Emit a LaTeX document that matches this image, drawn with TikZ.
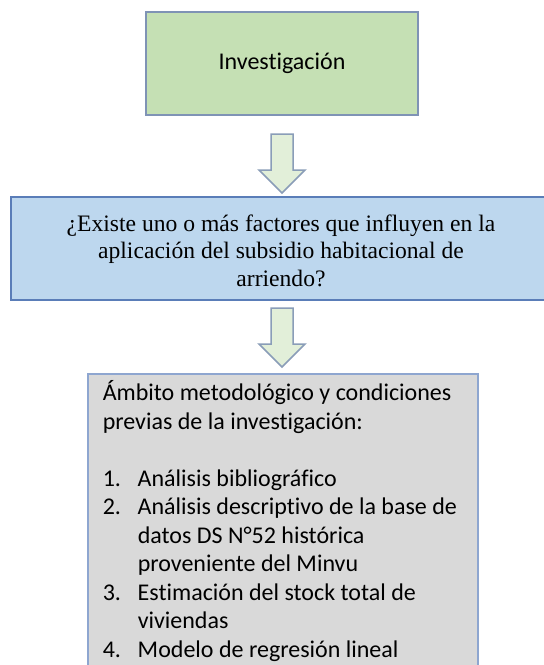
\documentclass[tikz,border=0pt]{standalone}
\usepackage{fontspec}
\setmainfont{Carlito}[Ligatures=NoCommon]
\newfontfamily\timesfont{Liberation Serif}
\usetikzlibrary{calc}

\definecolor{invfill}{HTML}{C5E0B4}
\definecolor{invline}{HTML}{7F93B5}
\definecolor{qfill}{HTML}{BDD7EE}
\definecolor{qline}{HTML}{5A7DB8}
\definecolor{ambfill}{HTML}{D9D9D9}
\definecolor{ambline}{HTML}{8EA6D0}
\definecolor{arrowfill}{HTML}{E2EFD9}
\definecolor{arrowline}{HTML}{8A9DB8}

% numbered line of the list
\newcommand{\numline}[1]{\makebox[17.5pt][l]{#1}}
\newcommand{\contline}{\hspace*{17.5pt}}

\begin{document}
\begin{tikzpicture}[x=0.5pt, y=-0.5pt, line width=0.75pt,
  flow box/.style={draw, inner sep=0pt},
  down arrow/.style={draw=arrowline, fill=arrowfill, line join=miter}]

  % picture frame (sizes in pixels of the reference)
  \clip (0,0) rectangle (544,665);
  \fill[white] (0,0) rectangle (544,665);

  % Top box
  \node[flow box, draw=invline, fill=invfill, minimum width=136pt, minimum height=51.5pt,
        font=\fontsize{12}{14}\selectfont] (inv) at (282,63.5) {Investigación};

  % Question box (runs past the right edge)
  \node[flow box, draw=qline, fill=qfill, minimum width=270pt, minimum height=51.5pt,
        font=\timesfont\fontsize{11.8}{13.75}\selectfont] (pregunta) at (281,248.5) {};
  \node[align=center, font=\timesfont\fontsize{11.8}{13.75}\selectfont] (preguntatxt)
        at ($(pregunta.center)+(0,2)$)
        {¿Existe uno o más factores que influyen en la\\
         aplicación del subsidio habitacional de\\
         arriendo?};

  % Method box (runs past the bottom edge)
  \node[flow box, draw=ambline, fill=ambfill, anchor=north west,
        minimum width=195pt, minimum height=170pt] (ambito) at (87,373) {};
  \node[anchor=north west, align=left, inner xsep=7.5pt, inner ysep=3.5pt,
        font=\fontsize{12}{14.25}\selectfont] (ambitotxt) at (ambito.north west)
        {Ámbito metodológico y condiciones\\
         previas de la investigación:\\[14.25pt]
         \numline{1.}Análisis bibliográfico\\
         \numline{2.}Análisis descriptivo de la base de\\
         \contline datos DS N°52 histórica\\
         \contline proveniente del Minvu\\
         \numline{3.}Estimación del stock total de\\
         \contline viviendas\\
         \numline{4.}Modelo de regresión lineal};

  % Block arrows between the boxes
  \coordinate (a1) at (282,134);
  \coordinate (a2) at (282,308);
  \foreach \top in {a1,a2}{
    \draw[down arrow] (\top) ++(-11,0) -- ++(22,0) -- ++(0,36) -- ++(12,0)
      -- ++(-23,23) -- ++(-23,-23) -- ++(12,0) -- cycle;
  }
\end{tikzpicture}
\end{document}
